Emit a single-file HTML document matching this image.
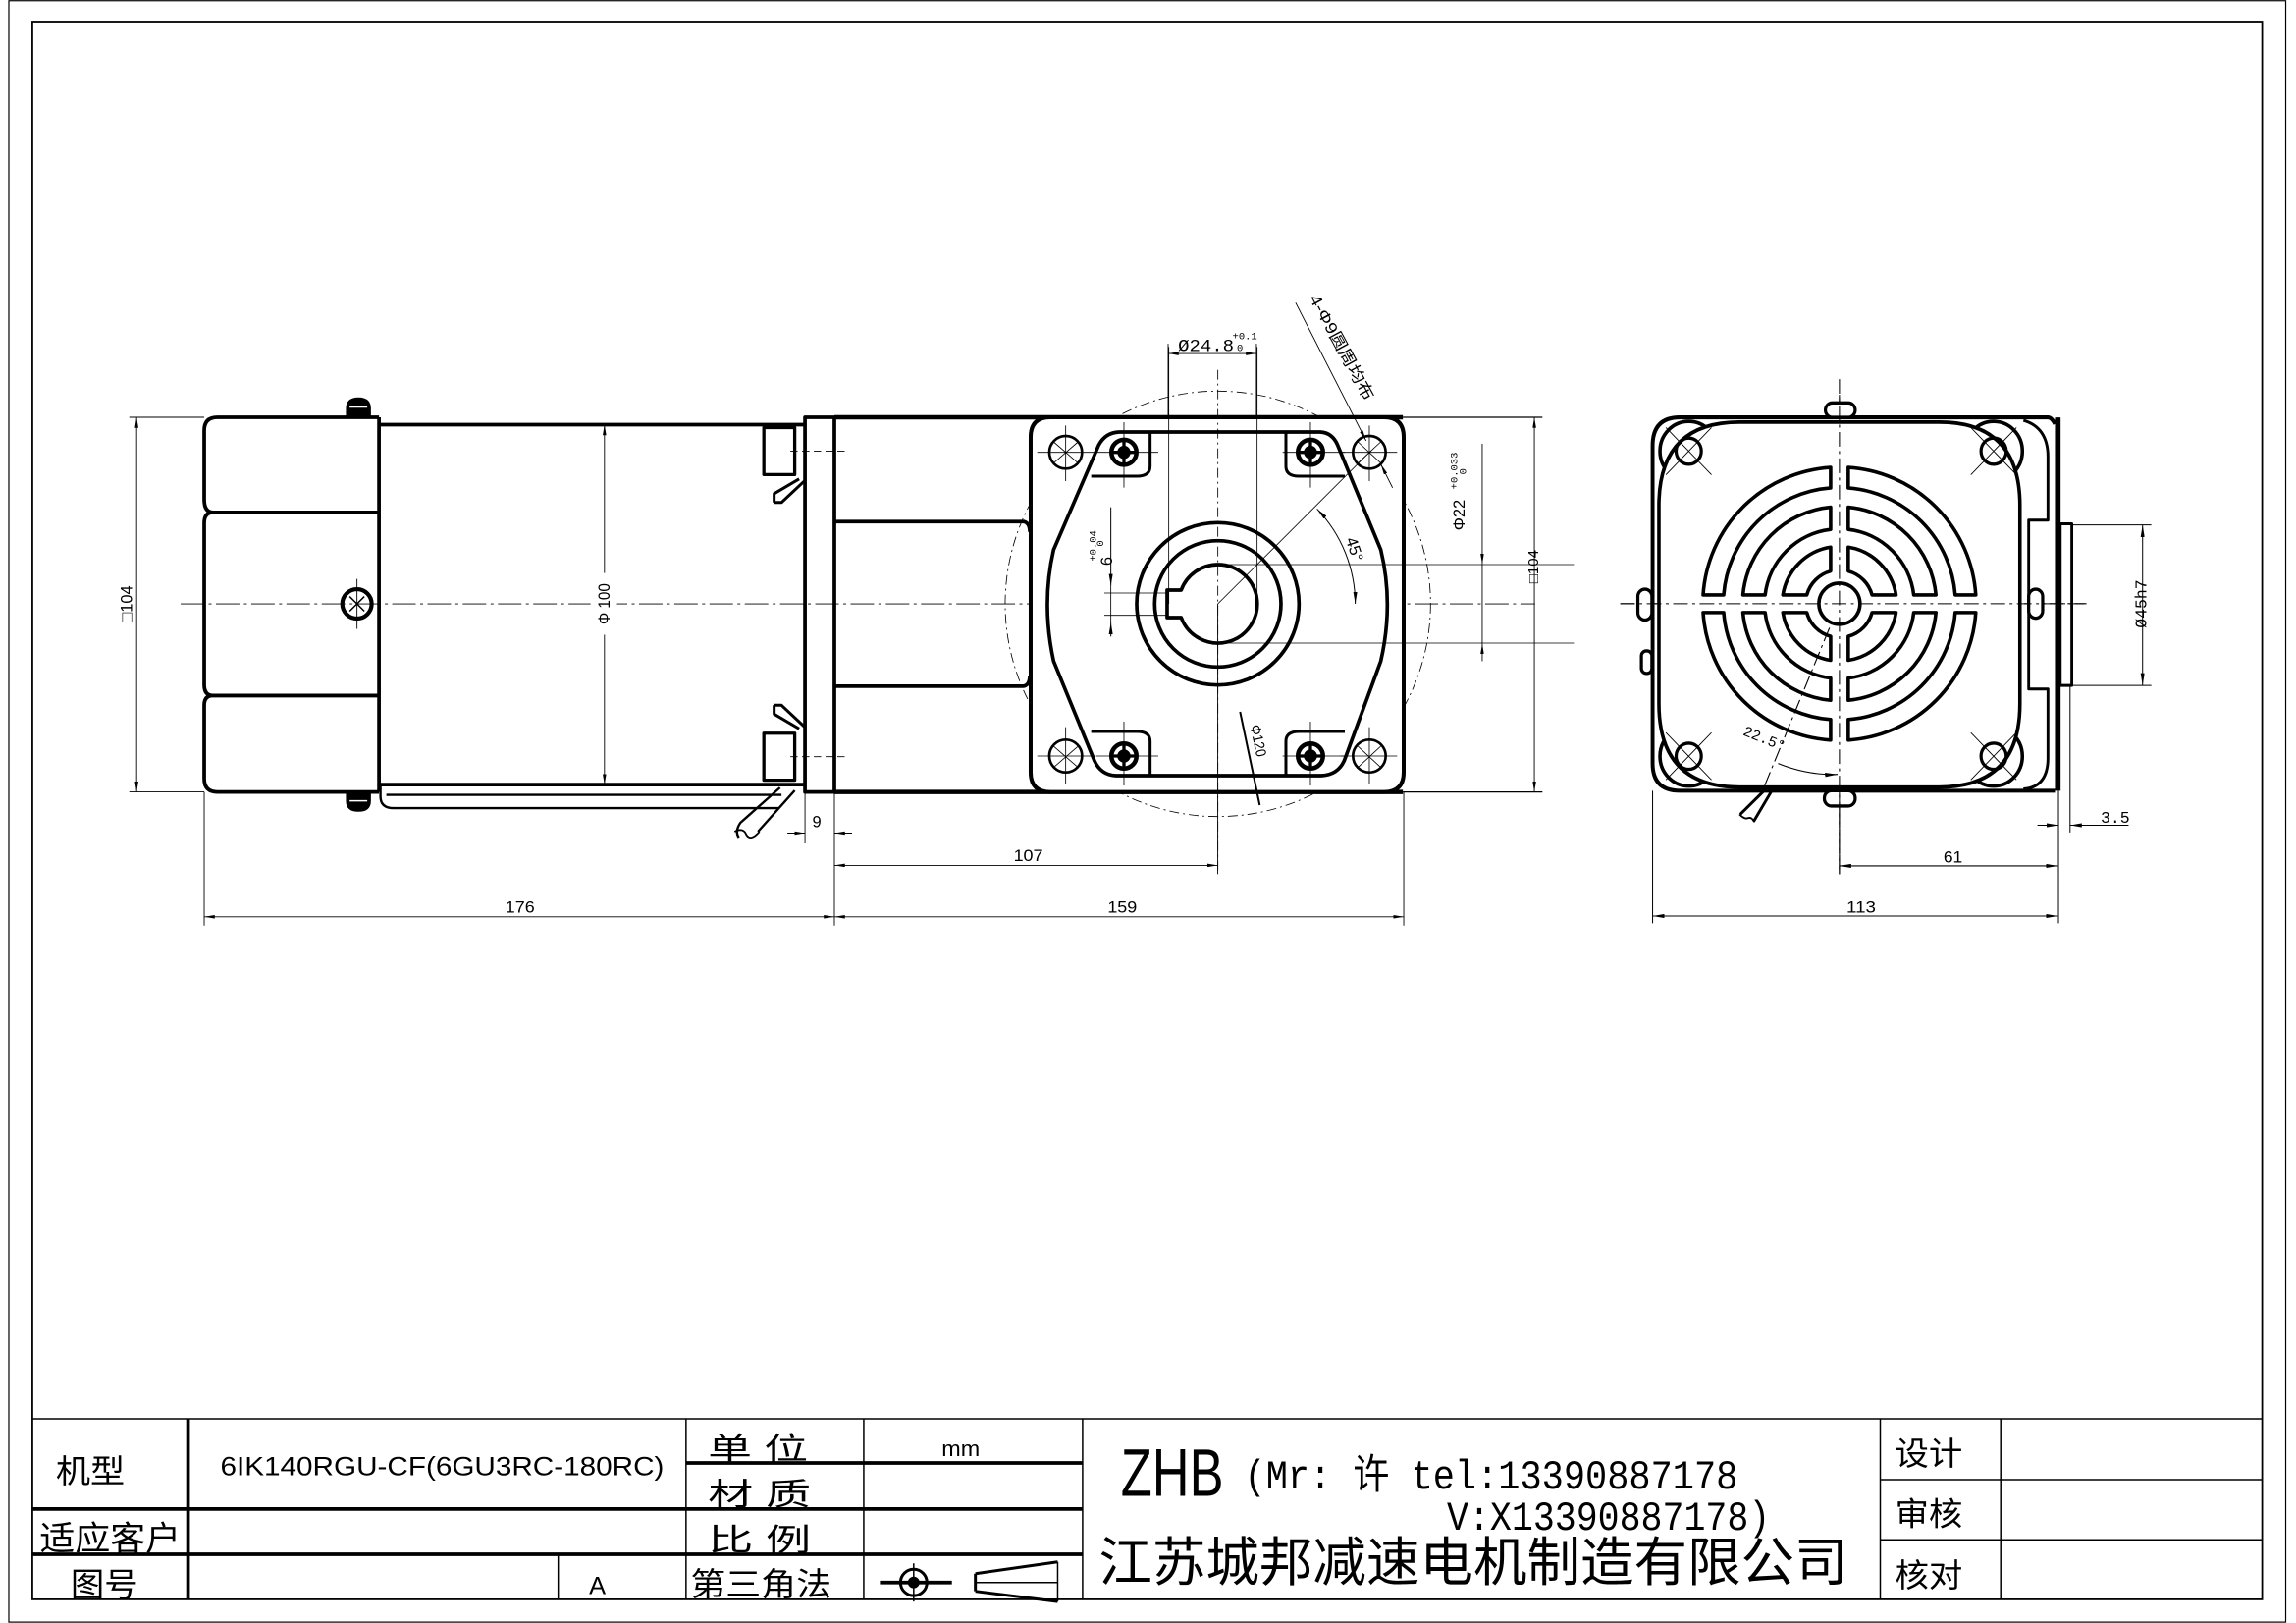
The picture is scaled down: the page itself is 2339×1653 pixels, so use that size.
<!DOCTYPE html>
<html><head><meta charset="utf-8">
<style>
html,body{margin:0;padding:0;background:#fff}
svg{display:block}
text{font-family:"Liberation Sans","Noto Sans CJK SC",sans-serif;fill:#000}
.cn{font-family:"Liberation Sans","Noto Sans CJK SC",sans-serif}
.m{font-family:"Liberation Mono","DejaVu Sans Mono",monospace}
</style></head>
<body>
<svg width="2339" height="1653" viewBox="0 0 1563 1104.6" xmlns="http://www.w3.org/2000/svg">
<defs>
<marker id="a" viewBox="0 0 12 4" refX="12" refY="2" markerWidth="12" markerHeight="4" orient="auto-start-reverse" markerUnits="strokeWidth"><path d="M0,0 L12,2 L0,4z" fill="#000"/></marker>
<g id="q"><path d="M6 38.5 A39 39 0 0 0 38.5 6 L22.2 6 A23 23 0 0 1 6 22.2 Z"/><path d="M6 65.7 A66 66 0 0 0 65.7 6 L50.6 6 A51 51 0 0 1 6 50.6 Z"/><path d="M6 92.8 A93 93 0 0 0 92.8 6 L78.8 6 A79 79 0 0 1 6 78.8 Z"/></g>
<g id="scr"><circle r="8.5" fill="none" stroke="#000" stroke-width="3"/><path d="M-8 0H8M0 -8V8" stroke="#000" stroke-width="2.2"/><circle r="4" fill="#000"/></g>
</defs>
<rect width="1563" height="1104.6" fill="#fff"/>
<!-- sheet edge & frame -->
<rect x="6" y="0.5" width="1550" height="1103.5" fill="none" stroke="#000" stroke-width="0.8"/>
<rect x="22" y="14.7" width="1518" height="1073.8" fill="none" stroke="#000" stroke-width="1.2"/>

<!-- ============ TITLE BLOCK ============ -->
<g stroke="#000" fill="none">
<line x1="22" y1="965.6" x2="1540" y2="965.6" stroke-width="1"/>
<line x1="22" y1="1027" x2="737" y2="1027" stroke-width="2.5"/>
<line x1="22" y1="1057.8" x2="737" y2="1057.8" stroke-width="2.5"/>
<line x1="467" y1="995.7" x2="737" y2="995.7" stroke-width="2.5"/>
<line x1="1280" y1="1007" x2="1540" y2="1007" stroke-width="1"/>
<line x1="1280" y1="1048" x2="1540" y2="1048" stroke-width="1"/>
<line x1="128" y1="965.6" x2="128" y2="1088.5" stroke-width="2.5"/>
<line x1="380" y1="1057.8" x2="380" y2="1088.5" stroke-width="1"/>
<line x1="467" y1="965.6" x2="467" y2="1088.5" stroke-width="1"/>
<line x1="588" y1="965.6" x2="588" y2="1088.5" stroke-width="1"/>
<line x1="737" y1="965.6" x2="737" y2="1088.5" stroke-width="1"/>
<line x1="1280" y1="965.6" x2="1280" y2="1088.5" stroke-width="1"/>
<line x1="1362" y1="965.6" x2="1362" y2="1088.5" stroke-width="1"/>
</g>
<text x="38" y="1009" font-size="22" textLength="47" lengthAdjust="spacingAndGlyphs">机型</text>
<text x="150" y="1004" font-size="18" textLength="302" lengthAdjust="spacingAndGlyphs">6IK140RGU-CF(6GU3RC-180RC)</text>
<text x="482" y="993" font-size="21" textLength="68" lengthAdjust="spacingAndGlyphs">单 位</text>
<text x="641" y="991" font-size="15" textLength="26" lengthAdjust="spacingAndGlyphs">mm</text>
<text x="482" y="1024" font-size="21" textLength="70" lengthAdjust="spacingAndGlyphs">材 质</text>
<text x="482" y="1055" font-size="21" textLength="70" lengthAdjust="spacingAndGlyphs">比 例</text>
<text x="470" y="1086" font-size="22" textLength="96" lengthAdjust="spacingAndGlyphs">第三角法</text>
<text x="401" y="1085" font-size="17">A</text>
<text x="27" y="1055" font-size="23" textLength="96" lengthAdjust="spacingAndGlyphs">适应客户</text>
<text x="48" y="1087" font-size="23" textLength="46" lengthAdjust="spacingAndGlyphs">图号</text>
<text x="763" y="1018" font-size="46" textLength="70" lengthAdjust="spacingAndGlyphs">ZHB</text>
<text x="847" y="1013" font-size="28" textLength="336" lengthAdjust="spacingAndGlyphs" class="m">(Mr: 许 tel:13390887178</text>
<text x="985" y="1041" font-size="28" textLength="220" lengthAdjust="spacingAndGlyphs" class="m">V:X13390887178)</text>
<text x="748" y="1076" font-size="36" textLength="510" lengthAdjust="spacingAndGlyphs">江苏城邦减速电机制造有限公司</text>
<text x="1290" y="997" font-size="22" textLength="46" lengthAdjust="spacingAndGlyphs">设计</text>
<text x="1290" y="1038" font-size="22" textLength="46" lengthAdjust="spacingAndGlyphs">审核</text>
<text x="1290" y="1080" font-size="22" textLength="46" lengthAdjust="spacingAndGlyphs">核对</text>
<g stroke="#000" fill="none">
<line x1="599" y1="1077" x2="648" y2="1077" stroke-width="2.5"/>
<circle cx="622" cy="1077" r="9" stroke-width="2"/>
<circle cx="622" cy="1077" r="3.5" fill="#000"/>
<line x1="622" y1="1064" x2="622" y2="1090" stroke-width="1"/>
<path d="M664 1071 L720 1063 M664 1083 L720 1090 M664 1071 V1083" stroke-width="2"/>
<line x1="664" y1="1077" x2="720" y2="1077" stroke-width="1"/>
<line x1="720" y1="1063" x2="720" y2="1090" stroke-width="1"/>
</g>

<!-- ============ LEFT VIEW ============ -->
<g stroke="#000" fill="none" stroke-linejoin="round">
<!-- center line -->
<line x1="123" y1="411" x2="1045" y2="411" stroke-width="0.6" stroke-dasharray="16 3 2 3"/>
<!-- rear cap -->
<path d="M258 284 H148 Q139 284 139 293 V340 Q139 348.7 145 348.7 H258" stroke-width="2.5"/>
<path d="M258 348.7 H145 Q139 348.7 139 356 V466 Q139 473.4 145 473.4 H258" stroke-width="2.5"/>
<path d="M258 473.4 H145 Q139 473.4 139 480 V530 Q139 539 148 539 H258" stroke-width="2.5"/>
<line x1="258" y1="284" x2="258" y2="539" stroke-width="2.5"/>
<path d="M236 284 V278 Q236 271 244 271 Q252 271 252 278 V284 Z" fill="#000" stroke-width="1"/>
<line x1="238" y1="277" x2="250" y2="277" stroke="#fff" stroke-width="1"/>
<path d="M236 539 V545 Q236 552 244 552 Q252 552 252 545 V539 Z" fill="#000" stroke-width="1"/>
<line x1="238" y1="545" x2="250" y2="545" stroke="#fff" stroke-width="1"/>
<circle cx="243" cy="411" r="10" stroke-width="2.8"/>
<path d="M238 406 L248 416 M248 406 L238 416" stroke-width="1"/>
<line x1="243" y1="394" x2="243" y2="428" stroke-width="0.6"/>
<!-- motor body -->
<path d="M258 289 H548 M258 534 H548" stroke-width="2.5"/>
<!-- flange -->
<rect x="548" y="284" width="20" height="255" stroke-width="2.5"/>
<rect x="520" y="291" width="21" height="32" stroke-width="2.2"/>
<rect x="520" y="499" width="21" height="32" stroke-width="2.2"/>
<path d="M527 342 L527 336 L544 326 M527 342 L532 342 L548 327" stroke-width="2"/>
<path d="M527 480 L527 486 L544 496 M527 480 L532 480 L548 495" stroke-width="2"/>
<line x1="538" y1="307" x2="578" y2="307" stroke-width="0.6" stroke-dasharray="5 3"/>
<line x1="538" y1="515" x2="578" y2="515" stroke-width="0.6" stroke-dasharray="5 3"/>
<!-- wires -->
<path d="M259 534 V542 Q259 550 268 550 H530" stroke-width="1.6"/>
<path d="M263 541 H532" stroke-width="1.6"/>
<path d="M531 536 L504 560 Q500 566 503 570 M541 538 L516 566" stroke-width="1.6"/>
<path d="M500 566 Q506 563 508 568 Q511 573 517 566" stroke-width="1.2"/>
<!-- gearbox -->
<path d="M568 284 H955 M568 539 H955" stroke-width="3"/>
<path d="M568 355 H697 Q701 356 701 362 M568 467 H697 Q701 466 701 460" stroke-width="2.5"/>
<line x1="955" y1="284" x2="1050" y2="284" stroke-width="0.8"/>
<line x1="955" y1="539" x2="1050" y2="539" stroke-width="0.8"/>
</g>

<!-- gearbox face (zoom7 coords) -->
<g transform="translate(694.95,280.66) scale(0.22275)" stroke="#000" fill="none" stroke-linejoin="round">
<circle cx="602" cy="585" r="650" stroke-width="2.5" stroke-dasharray="30 12 6 12"/>
<path d="M90 15 H1110 Q1170 15 1170 75 V1100 Q1170 1160 1110 1160 H90 Q30 1160 30 1100 V75 Q30 15 90 15 Z" fill="#fff" stroke-width="12"/>
<circle cx="602" cy="585" r="650" stroke-width="2.5" stroke-dasharray="30 12 6 12" clip-path="none" opacity="0"/>
<path d="M300 60 L915 60 Q952 62 968 100 L1100 420 Q1140 585 1100 760 L988 1065 Q968 1108 918 1110 L290 1110 Q245 1108 225 1065 L100 760 Q62 585 100 420 L238 100 Q258 62 300 60 Z" stroke-width="11"/>
<path d="M395 62 V165 Q395 195 355 195 H215 M810 62 V165 Q810 195 850 195 H990 M395 1108 V1005 Q395 975 355 975 H215 M810 1108 V1005 Q810 975 850 975 H990" stroke-width="9"/>
<circle cx="137" cy="122" r="50" stroke-width="8"/>
<circle cx="1065" cy="122" r="50" stroke-width="8"/>
<circle cx="137" cy="1050" r="50" stroke-width="8"/>
<circle cx="1065" cy="1050" r="50" stroke-width="8"/>
<g stroke-width="2.5">
<path d="M50 122 H225 M137 40 V210 M977 122 H1150 M1065 40 V210 M50 1050 H225 M137 962 V1135 M977 1050 H1150 M1065 962 V1135"/>
<path d="M230 122 H420 M315 30 V230 M800 122 H990 M885 30 V230 M230 1050 H420 M315 945 V1140 M800 1050 H990 M885 945 V1140"/>
<path d="M1030 90 L1100 155 M1030 155 L1100 90"/>
<path d="M100 90 L175 155 M100 155 L175 90 M100 1020 L175 1085 M100 1085 L175 1020 M1030 1020 L1100 1085 M1030 1085 L1100 1020"/>
</g>
<g transform="translate(315,122) scale(4.5)"><use href="#scr"/></g>
<g transform="translate(885,122) scale(4.5)"><use href="#scr"/></g>
<g transform="translate(315,1050) scale(4.5)"><use href="#scr"/></g>
<g transform="translate(885,1050) scale(4.5)"><use href="#scr"/></g>
<circle cx="602" cy="585" r="248" stroke-width="11"/>
<circle cx="602" cy="585" r="193" stroke-width="11"/>
<path d="M602 465 A120 120 0 1 1 490 627 H447 V543 H490 A120 120 0 0 1 602 465 Z" stroke-width="11"/>
<!-- thin lines -->
<g stroke-width="2.5">
<path d="M452 -200 V585 M722 -200 V585"/>
<path d="M602 465 H1690 M602 705 H1690"/>
<path d="M602 -130 V1400" stroke-dasharray="30 12 6 12"/>
<path d="M602 585 L1070 117" />
<path d="M905 295 A420 420 0 0 1 1022 585" marker-start="url(#a)" marker-end="url(#a)" stroke-width="3"/>
<path d="M275 290 V530" marker-end="url(#a)" stroke-width="3"/>
<path d="M275 685 V642" marker-end="url(#a)" stroke-width="3"/>
<path d="M275 530 V642 M255 552 H445 M255 620 H445"/>
</g>
<path d="M670 915 L730 1200" stroke-width="6"/>
</g>

<!-- left/face dims -->
<g stroke="#000" fill="none" stroke-width="0.6">
<path d="M88 284 H139 M88 539 H139"/>
<line x1="93" y1="284" x2="93" y2="539" marker-start="url(#a)" marker-end="url(#a)"/>
<line x1="411.5" y1="289" x2="411.5" y2="534" marker-start="url(#a)" marker-end="url(#a)"/>
<path d="M139 539 V630 M548 539 V574 M568 539 V630 M829 411 V595 M955.6 539 V630"/>
<line x1="536" y1="567" x2="548" y2="567" marker-end="url(#a)"/>
<line x1="580" y1="567" x2="568" y2="567" marker-end="url(#a)"/>
<line x1="568" y1="589" x2="829" y2="589" marker-start="url(#a)" marker-end="url(#a)"/>
<line x1="139" y1="624" x2="568" y2="624" marker-start="url(#a)" marker-end="url(#a)"/>
<line x1="568" y1="624" x2="955.6" y2="624" marker-start="url(#a)" marker-end="url(#a)"/>
<line x1="795.2" y1="240.6" x2="855.3" y2="240.6" marker-start="url(#a)" marker-end="url(#a)"/>
<path d="M795.2 234 V284 M855.3 234 V284"/>
<line x1="882" y1="206" x2="930" y2="300" marker-end="url(#a)"/>
<line x1="948" y1="332" x2="940" y2="316" marker-end="url(#a)"/>
<path d="M1009 302 V384" marker-end="url(#a)"/>
<path d="M1009 450 V438" marker-end="url(#a)"/>
<line x1="1009" y1="384" x2="1009" y2="438"/>
<line x1="1044.5" y1="284" x2="1044.5" y2="539" marker-start="url(#a)" marker-end="url(#a)"/>
</g>
<rect x="402" y="390" width="18" height="42" fill="#fff"/>
<g font-size="11">
<text transform="translate(90,411) rotate(-90)" text-anchor="middle" font-size="11">□104</text>
<text transform="translate(415,411) rotate(-90)" text-anchor="middle" font-size="11" textLength="28" lengthAdjust="spacingAndGlyphs">Φ 100</text>
<text x="553" y="563" font-size="11">9</text>
<text x="690" y="586" font-size="11" textLength="20" lengthAdjust="spacingAndGlyphs">107</text>
<text x="344" y="621" font-size="11" textLength="20" lengthAdjust="spacingAndGlyphs">176</text>
<text x="754" y="621" font-size="11" textLength="20" lengthAdjust="spacingAndGlyphs">159</text>
<text x="802" y="239" font-size="12" class="m" textLength="38" lengthAdjust="spacingAndGlyphs">Ø24.8</text>
<text x="839" y="231" font-size="7" class="m">+0.1</text>
<text x="842" y="239" font-size="7" class="m">0</text>
<text transform="translate(891,203) rotate(61.5)" font-size="11" textLength="80" lengthAdjust="spacingAndGlyphs">4-Φ9圆周均布</text>
<text transform="translate(997,361) rotate(-90)" font-size="11" textLength="21" lengthAdjust="spacingAndGlyphs">Φ22</text>
<text transform="translate(992,333) rotate(-90)" font-size="7" class="m">+0.033</text>
<text transform="translate(998,323) rotate(-90)" font-size="7" class="m">0</text>
<text transform="translate(1047,397) rotate(-90)" font-size="10">□104</text>
<text transform="translate(757,385) rotate(-90)" font-size="11">6</text>
<text transform="translate(746,382) rotate(-90)" font-size="7" class="m">+0.04</text>
<text transform="translate(751,372) rotate(-90)" font-size="7" class="m">0</text>
<text transform="translate(916,367) rotate(72)" font-size="11">45°</text>
<text transform="translate(851,494) rotate(78)" font-size="10" textLength="22" lengthAdjust="spacingAndGlyphs">Φ120</text>
</g>

<!-- ============ RIGHT VIEW (zoom3 coords) ============ -->
<g transform="translate(1095.9,253.9) scale(0.2386,0.2472)" stroke="#000" fill="none" stroke-linejoin="round">
<path d="M655 60 V1380" stroke-width="3" stroke-dasharray="40 12 8 12"/>
<path d="M30 635 H1360" stroke-width="3" stroke-dasharray="40 12 8 12"/>
<path d="M200 122 H1250 Q1260 122 1270 140 M200 1150 H1270 M122 200 V1075 Q122 1150 200 1150 M122 200 Q122 122 200 122" stroke-width="11"/>
<path d="M1278 122 V1150" stroke-width="16"/>
<path d="M1180 130 Q1250 150 1250 230 V405 H1195 V870 H1250 V1060 Q1250 1140 1180 1145" stroke-width="8"/>
<rect x="1285" y="415" width="33" height="445" stroke-width="8"/>
<!-- ears -->
<circle cx="225" cy="215" r="82" fill="#fff" stroke-width="10"/>
<circle cx="1095" cy="215" r="82" fill="#fff" stroke-width="10"/>
<circle cx="225" cy="1055" r="82" fill="#fff" stroke-width="10"/>
<circle cx="1095" cy="1055" r="82" fill="#fff" stroke-width="10"/>
<path d="M140 365 Q140 135 370 135 H940 Q1170 135 1170 365 V910 Q1170 1140 940 1140 H370 Q140 1140 140 910 Z" fill="#fff" stroke-width="10"/>
<circle cx="225" cy="215" r="36" stroke-width="9"/>
<circle cx="1095" cy="215" r="36" stroke-width="9"/>
<circle cx="225" cy="1055" r="36" stroke-width="9"/>
<circle cx="1095" cy="1055" r="36" stroke-width="9"/>
<path d="M160 150 L290 280 M160 280 L290 150 M1030 150 L1160 280 M1030 280 L1160 150 M160 990 L290 1120 M160 1120 L290 990 M1030 990 L1160 1120 M1030 1120 L1160 990" stroke-width="2.5"/>
<!-- screws -->
<rect x="615" y="82" width="85" height="40" rx="20" fill="#fff" stroke-width="9"/>
<rect x="612" y="1150" width="88" height="42" rx="20" fill="#fff" stroke-width="9"/>
<rect x="80" y="595" width="40" height="85" rx="20" fill="#fff" stroke-width="9"/>
<rect x="90" y="765" width="30" height="62" rx="14" fill="#fff" stroke-width="9"/>
<rect x="1195" y="595" width="40" height="80" rx="20" fill="#fff" stroke-width="9"/>
<!-- cable -->
<path d="M440 1150 L372 1215 M462 1150 L410 1235" stroke-width="8"/>
<path d="M370 1215 Q385 1230 395 1225 Q405 1222 412 1236" stroke-width="5"/>
<!-- 22.5 -->
<path d="M655 635 L440 1140" stroke-width="3" stroke-dasharray="40 12 8 12"/>
<path d="M480 1075 Q565 1108 650 1105" stroke-width="3" marker-end="url(#a)"/>
<!-- dims -->
<g stroke-width="2.8">
<path d="M1318 418 H1545 M1318 860 H1545"/>
<line x1="1520" y1="418" x2="1520" y2="860" marker-start="url(#a)" marker-end="url(#a)"/>
<path d="M1313 860 V1265 M1280 1150 V1515 M122 1150 V1515 M655 1150 V1380"/>
<line x1="1220" y1="1245" x2="1280" y2="1245" marker-end="url(#a)"/>
<line x1="1480" y1="1245" x2="1313" y2="1245" marker-end="url(#a)"/>
<line x1="655" y1="1357" x2="1278" y2="1357" marker-start="url(#a)" marker-end="url(#a)"/>
<line x1="122" y1="1495" x2="1278" y2="1495" marker-start="url(#a)" marker-end="url(#a)"/>
</g>
</g>
<!-- grill -->
<g transform="translate(1252.2,410.9)" fill="none" stroke="#000" stroke-width="2.4" stroke-linejoin="round">
<use href="#q"/>
<use href="#q" transform="scale(-1,1)"/>
<use href="#q" transform="scale(1,-1)"/>
<use href="#q" transform="scale(-1,-1)"/>
<circle r="14" fill="#fff"/>
</g>
<line x1="1252.2" y1="258" x2="1252.2" y2="595" stroke="#000" stroke-width="0.7" stroke-dasharray="10 3 2 3"/>
<line x1="1103" y1="410.9" x2="1420" y2="410.9" stroke="#000" stroke-width="0.7" stroke-dasharray="10 3 2 3"/>
<g font-size="11">
<text x="1430" y="560" font-size="11" class="m">3.5</text>
<text x="1323" y="587" font-size="11" textLength="13" lengthAdjust="spacingAndGlyphs">61</text>
<text x="1257" y="621" font-size="11" textLength="20" lengthAdjust="spacingAndGlyphs">113</text>
<text transform="translate(1461,411) rotate(-90)" text-anchor="middle" font-size="11" class="m">Ø45h7</text>
<text transform="translate(1186,500) rotate(22)" font-size="10" class="m">22.5°</text>
</g>
</svg>
</body></html>
